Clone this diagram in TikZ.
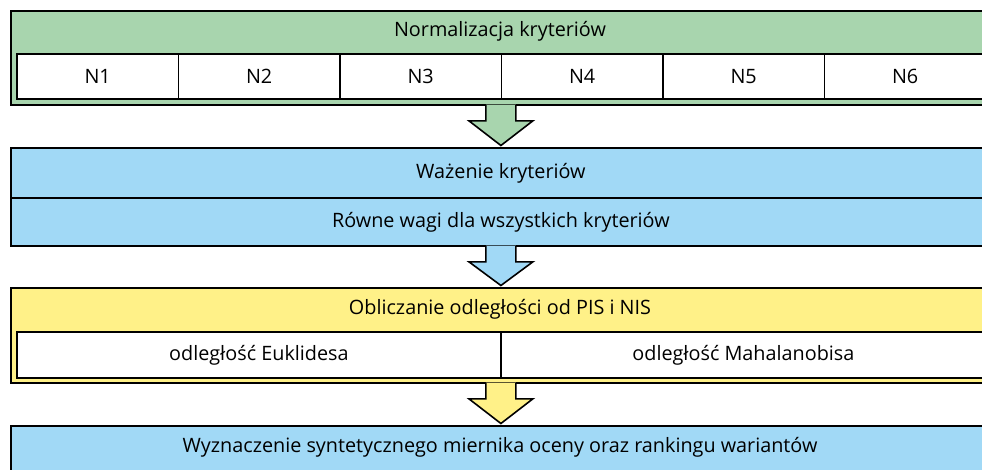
\documentclass[tikz,border=0pt]{standalone}
\usepackage{fontspec}
\setmainfont{Open Sans}
\usetikzlibrary{calc}
\definecolor{gfill}{RGB}{168,213,174}
\definecolor{bfill}{RGB}{161,217,246}
\definecolor{yfill}{RGB}{255,241,136}
\newcommand\lblfont{\fontsize{19.8}{23}\selectfont}
\newcommand\blockarrow[3]{%
  \fill[#3] ($(#1.south)+(-15,-1.2)$) -- ($(#1.south)+(-15,15)$) -- ($(#1.south)+(-32,15)$)
     -- ($(#2.north)+(0,-1.5)$) -- ($(#1.south)+(32,15)$) -- ($(#1.south)+(15,15)$)
     -- ($(#1.south)+(15,-1.2)$) -- cycle;
  \draw[blockarr] ($(#1.south)+(-15,-0.9)$) -- ($(#1.south)+(-15,15)$) -- ($(#1.south)+(-32,15)$)
     -- ($(#2.north)+(0,-1.5)$) -- ($(#1.south)+(32,15)$) -- ($(#1.south)+(15,15)$)
     -- ($(#1.south)+(15,-0.9)$);}
\begin{document}
\begin{tikzpicture}[x=1pt,y=-1pt,
  band/.style={draw=black,line width=1.8pt,inner sep=0pt,anchor=north west,minimum width=980pt,font=\lblfont},
  cellbox/.style={draw=black,line width=1.8pt,fill=white,inner sep=0pt,anchor=north west,font=\lblfont},
  lbl/.style={inner sep=0pt,font=\lblfont},
  blockarr/.style={draw=black,line width=1.6pt,line join=miter}]
\clip (0,0) rectangle (982,469);
\fill[white] (0,0) rectangle (982,469);
% green band
\node[band,fill=gfill,minimum height=94pt] (g) at (10,10) {};
\node[lbl] (gt) at (500,31) {Normalizacja kryteriów};
\foreach \i in {1,...,6}{
  \node[cellbox,minimum width=161.5pt,minimum height=45pt] (n\i) at ({16+161.5*(\i-1)},53) {N\i};
}
% blue band
\node[band,fill=bfill,minimum height=50pt] (wz1) at (10,147) {Ważenie kryteriów};
\node[band,fill=bfill,minimum height=48pt] (wz2) at (10,197) {Równe wagi dla wszystkich kryteriów};
% yellow band
\node[band,fill=yfill,minimum height=95pt] (y) at (10,287) {};
\node[lbl] (yt) at (500,309) {Obliczanie odległości od PIS i NIS};
\node[cellbox,minimum width=484pt,minimum height=46pt] (e1) at (16,331) {odległość Euklidesa};
\node[cellbox,minimum width=485pt,minimum height=46pt] (e2) at (500,331) {odległość Mahalanobisa};
% bottom band
\node[band,fill=bfill,minimum height=70pt] (w) at (10,425) {};
\node[lbl] (wt) at (500,447) {Wyznaczenie syntetycznego miernika oceny oraz rankingu wariantów};
% block arrows
\blockarrow{g}{wz1}{gfill}
\blockarrow{wz2}{y}{bfill}
\blockarrow{y}{w}{yfill}
\end{tikzpicture}
\end{document}
